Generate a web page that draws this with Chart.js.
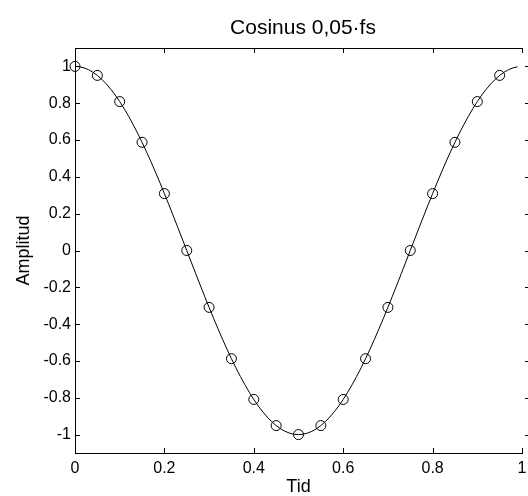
<!DOCTYPE html>
<html>
<head>
<meta charset="utf-8">
<script src="https://cdn.jsdelivr.net/npm/chart.js@4"></script>
<style>
  html, body { margin: 0; padding: 0; background: #fff; }
  canvas { display: block; }
</style>
</head>
<body>
<canvas id="cosChart" width="528" height="496"></canvas>
<script>
// Continuous signal
const tid = [
    0, 0.01, 0.02, 0.03, 0.04, 0.05, 0.06, 0.07, 0.08, 0.09,
    0.1, 0.11, 0.12, 0.13, 0.14, 0.15, 0.16, 0.17, 0.18, 0.19,
    0.2, 0.21, 0.22, 0.23, 0.24, 0.25, 0.26, 0.27, 0.28, 0.29,
    0.3, 0.31, 0.32, 0.33, 0.34, 0.35, 0.36, 0.37, 0.38, 0.39,
    0.4, 0.41, 0.42, 0.43, 0.44, 0.45, 0.46, 0.47, 0.48, 0.49,
    0.5, 0.51, 0.52, 0.53, 0.54, 0.55, 0.56, 0.57, 0.58, 0.59,
    0.6, 0.61, 0.62, 0.63, 0.64, 0.65, 0.66, 0.67, 0.68, 0.69,
    0.7, 0.71, 0.72, 0.73, 0.74, 0.75, 0.76, 0.77, 0.78, 0.79,
    0.8, 0.81, 0.82, 0.83, 0.84, 0.85, 0.86, 0.87, 0.88, 0.89,
    0.9, 0.91, 0.92, 0.93, 0.94, 0.95, 0.96, 0.97, 0.98, 0.99
];
const amplitud = [
    1, 0.998, 0.9921, 0.9823, 0.9686, 0.9511, 0.9298, 0.9048, 0.8763, 0.8443,
    0.809, 0.7705, 0.729, 0.6845, 0.6374, 0.5878, 0.5358, 0.4818, 0.4258, 0.3681,
    0.309, 0.2487, 0.1874, 0.1253, 0.0628, 0, -0.0628, -0.1253, -0.1874, -0.2487,
    -0.309, -0.3681, -0.4258, -0.4818, -0.5358, -0.5878, -0.6374, -0.6845, -0.729, -0.7705,
    -0.809, -0.8443, -0.8763, -0.9048, -0.9298, -0.9511, -0.9686, -0.9823, -0.9921, -0.998,
    -1, -0.998, -0.9921, -0.9823, -0.9686, -0.9511, -0.9298, -0.9048, -0.8763, -0.8443,
    -0.809, -0.7705, -0.729, -0.6845, -0.6374, -0.5878, -0.5358, -0.4818, -0.4258, -0.3681,
    -0.309, -0.2487, -0.1874, -0.1253, -0.0628, 0, 0.0628, 0.1253, 0.1874, 0.2487,
    0.309, 0.3681, 0.4258, 0.4818, 0.5358, 0.5878, 0.6374, 0.6845, 0.729, 0.7705,
    0.809, 0.8443, 0.8763, 0.9048, 0.9298, 0.9511, 0.9686, 0.9823, 0.9921, 0.998
];

// Samples
const sampleTid = [0, 0.05, 0.1, 0.15, 0.2, 0.25, 0.3, 0.35, 0.4, 0.45,
                   0.5, 0.55, 0.6, 0.65, 0.7, 0.75, 0.8, 0.85, 0.9, 0.95];
const sampleAmplitud = [1, 0.9511, 0.809, 0.5878, 0.309, 0, -0.309, -0.5878, -0.809, -0.9511,
                        -1, -0.9511, -0.809, -0.5878, -0.309, 0, 0.309, 0.5878, 0.809, 0.9511];

// Axis ticks
const xTicks = [0, 0.2, 0.4, 0.6, 0.8, 1];
const yTicks = [-1, -0.8, -0.6, -0.4, -0.2, 0, 0.2, 0.4, 0.6, 0.8, 1];

const FONT = "'Liberation Sans', Arial, Helvetica, sans-serif";
const TICK_LEN = 5;

// Inward tick marks on all four sides, top border and title
const frameTicks = {
    id: 'frameTicks',
    afterDraw(chart) {
        const ctx = chart.ctx;
        const { left, right, top, bottom } = chart.chartArea;
        const xs = chart.scales.x;
        const ys = chart.scales.y;
        ctx.save();
        ctx.strokeStyle = '#000';
        ctx.lineWidth = 1;
        ctx.beginPath();
        ctx.moveTo(left, top + 0.5);
        ctx.lineTo(right + 0.5, top + 0.5);
        xTicks.forEach(v => {
            const px = Math.round(xs.getPixelForValue(v)) + 0.5;
            ctx.moveTo(px, bottom);
            ctx.lineTo(px, bottom - TICK_LEN);
            ctx.moveTo(px, top);
            ctx.lineTo(px, top + TICK_LEN);
        });
        yTicks.forEach(v => {
            const py = Math.round(ys.getPixelForValue(v)) + 0.5;
            ctx.moveTo(left, py);
            ctx.lineTo(left + TICK_LEN, py);
            ctx.moveTo(chart.width, py);
            ctx.lineTo(chart.width - 3, py);
        });
        ctx.stroke();

        ctx.fillStyle = '#000';
        ctx.font = '21px ' + FONT;
        ctx.textAlign = 'center';
        ctx.textBaseline = 'middle';
        ctx.fillText('Cosinus 0,05\u00b7fs', 303, 28);
        ctx.restore();
    }
};

const ctx = document.getElementById('cosChart').getContext('2d');

new Chart(ctx, {
    type: 'scatter',
    data: {
        datasets: [
            {
                data: tid.map((t, i) => ({ x: t, y: amplitud[i] })),
                showLine: true,
                borderColor: '#000',
                borderWidth: 1,
                pointRadius: 0,
                tension: 0
            },
            {
                data: sampleTid.map((t, i) => ({ x: t, y: sampleAmplitud[i] })),
                showLine: false,
                pointStyle: 'circle',
                pointRadius: 5,
                borderColor: '#000',
                backgroundColor: 'rgba(0,0,0,0)',
                borderWidth: 1,
                clip: false
            }
        ]
    },
    options: {
        responsive: false,
        animation: false,
        layout: { padding: { top: 48, left: 0, right: 5, bottom: 0 } },
        plugins: {
            legend: { display: false },
            tooltip: { enabled: false },
            title: { display: false }
        },
        scales: {
            x: {
                type: 'linear',
                min: 0,
                max: 1,
                afterBuildTicks: s => { s.ticks = xTicks.map(v => ({ value: v })); },
                afterFit: s => { s.height = 43; s.paddingLeft = 0; s.paddingRight = 0; },
                grid: { display: false, drawTicks: false, tickLength: 0 },
                border: { display: true, color: '#000', width: 1 },
                ticks: {
                    padding: 6,
                    color: '#000',
                    maxRotation: 0,
                    font: { family: FONT, size: 16 },
                    callback: v => String(v)
                },
                title: {
                    display: true,
                    text: 'Tid',
                    color: '#000',
                    padding: 0,
                    font: { family: FONT, size: 18, lineHeight: 1 }
                }
            },
            y: {
                type: 'linear',
                min: -1.1,
                max: 1.1,
                afterBuildTicks: s => { s.ticks = yTicks.map(v => ({ value: v })); },
                afterFit: s => { s.width = 75; s.paddingTop = 0; s.paddingBottom = 0; },
                grid: { display: false, drawTicks: false, tickLength: 0 },
                border: { display: true, color: '#000', width: 1 },
                ticks: {
                    padding: 4,
                    color: '#000',
                    font: { family: FONT, size: 16 },
                    callback: v => String(v)
                },
                title: {
                    display: true,
                    text: 'Amplitud',
                    color: '#000',
                    padding: { top: 15, bottom: 0 },
                    font: { family: FONT, size: 18, lineHeight: 1 }
                }
            }
        }
    },
    plugins: [frameTicks]
});
</script>
</body>
</html>
